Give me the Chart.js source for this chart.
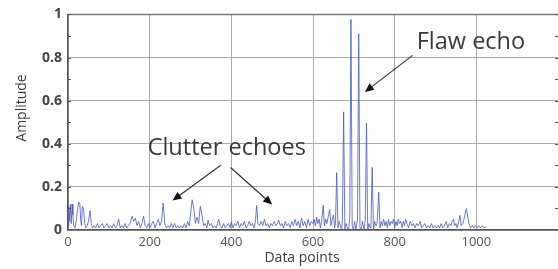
<!DOCTYPE html>
<html>
<head>
<meta charset="utf-8">
<script src="https://cdn.jsdelivr.net/npm/chart.js@4.4.1/dist/chart.umd.min.js"></script>
<style>
  html, body { margin: 0; padding: 0; background: #fff; overflow: hidden; }
  #wrap { width: 562px; height: 269px; }
</style>
</head>
<body>
<div id="wrap"><canvas id="myChart"></canvas></div>
<script>
// sample index (x) and amplitude (y)
const sampleIdx = [
  0, 2, 4, 6, 8, 10, 12, 14, 17, 20, 23, 26, 29, 31, 33, 35, 38, 41, 44, 47, 50, 54, 57, 60, 64, 68, 72, 76, 80, 84, 88, 92, 96, 100,
  104, 108, 112, 116, 120, 124, 128, 132, 136, 140, 144, 148, 152, 157, 161, 165, 169, 173, 177, 181, 185, 189, 193, 197, 201,
  205, 209, 213, 217, 221, 225, 229, 233, 237, 241, 245, 249, 253, 257, 261, 265, 269, 273, 277, 281, 285, 289, 293, 297,
  301, 304, 308, 312, 316, 320, 324, 328, 332, 336, 340, 343, 347, 351, 355, 359, 363, 366, 369, 373, 377, 381, 385, 389, 393, 397, 400,
  404, 408, 412, 416, 420, 424, 428, 432, 436, 440, 444, 448, 452, 456, 459, 462, 465, 469, 473, 477, 481, 485, 489, 493, 497, 501,
  505, 509, 513, 516, 520, 524, 528, 532, 536, 540, 544, 548, 552, 556, 560, 564, 568, 572, 576, 580, 584, 588, 592, 596, 600,
  603, 606, 609, 612, 615, 618, 621, 625, 628, 631, 634, 637, 641, 644, 647, 650, 653, 655, 658, 661, 664, 667, 670,
  672, 675, 678, 681, 684, 687, 690, 693, 696, 699, 702, 705, 709, 712, 715, 718, 721, 725, 728, 731, 734, 737, 740, 742, 745, 748, 751, 754, 757, 761, 764, 767, 770,
  773, 776, 779, 782, 785, 788, 791, 794, 797, 800, 803, 806, 809, 812, 815, 818, 821, 824, 827, 830, 834, 838, 842, 846, 850, 854, 858, 862, 866, 870, 874, 878, 882, 886, 890, 894, 898,
  902, 906, 910, 914, 918, 922, 926, 930, 934, 938, 941, 944, 947, 950, 953, 957, 960, 963, 967, 971, 974, 976, 979, 982, 986, 990, 994, 998, 1002, 1006, 1010, 1014, 1018, 1022, 1024
];
const amplitude = [
  0.02, 0.11, 0.04, 0.12, 0.03, 0.12, 0.07, 0.02, 0.01, 0.04, 0.09, 0.13, 0.12, 0.05, 0.02, 0.11, 0.10, 0.03, 0.01, 0.02, 0.04, 0.09, 0.03, 0.01, 0.02, 0.01, 0.03, 0.01, 0.02, 0.03, 0.01, 0.02, 0.03, 0.01,
  0.02, 0.01, 0.03, 0.01, 0.02, 0.05, 0.01, 0.02, 0.01, 0.03, 0.01, 0.02, 0.03, 0.064, 0.04, 0.055, 0.02, 0.04, 0.01, 0.03, 0.064, 0.02, 0.01, 0.03, 0.01,
  0.03, 0.04, 0.01, 0.03, 0.05, 0.02, 0.04, 0.125, 0.03, 0.01, 0.02, 0.01, 0.03, 0.01, 0.03, 0.01, 0.02, 0.01, 0.02, 0.01, 0.03, 0.01, 0.04, 0.02,
  0.09, 0.14, 0.10, 0.03, 0.06, 0.03, 0.11, 0.07, 0.02, 0.03, 0.01, 0.046, 0.02, 0.03, 0.01, 0.02, 0.01, 0.03, 0.05, 0.02, 0.01, 0.03, 0.01, 0.02, 0.03, 0.01, 0.038,
  0.01, 0.03, 0.02, 0.04, 0.01, 0.03, 0.02, 0.04, 0.01, 0.02, 0.04, 0.02, 0.03, 0.01, 0.04, 0.114, 0.03, 0.02, 0.04, 0.02, 0.05, 0.02, 0.03, 0.01, 0.03, 0.02,
  0.04, 0.02, 0.03, 0.046, 0.02, 0.03, 0.01, 0.04, 0.02, 0.03, 0.01, 0.04, 0.02, 0.05, 0.02, 0.04, 0.01, 0.055, 0.02, 0.04, 0.01, 0.05, 0.02, 0.04, 0.03,
  0.05, 0.02, 0.06, 0.03, 0.05, 0.01, 0.04, 0.114, 0.02, 0.05, 0.03, 0.06, 0.095, 0.02, 0.05, 0.07, 0.01, 0.03, 0.266, 0.01, 0.04, 0.02, 0.0,
  0.05, 0.548, 0.0, 0.03, 0.01, 0.0, 0.06, 0.977, 0.02, 0.0, 0.04, 0.0, 0.05, 0.91, 0.01, 0.0, 0.04, 0.0, 0.05, 0.495, 0.0, 0.03, 0.01, 0.04, 0.29, 0.0, 0.04, 0.02, 0.03, 0.175, 0.01, 0.04, 0.02,
  0.05, 0.02, 0.04, 0.01, 0.05, 0.02, 0.04, 0.03, 0.05, 0.01, 0.04, 0.02, 0.05, 0.03, 0.04, 0.01, 0.04, 0.02, 0.05, 0.03, 0.01, 0.04, 0.02, 0.03, 0.01, 0.03, 0.02, 0.04, 0.01, 0.02, 0.03, 0.01, 0.02, 0.01, 0.03, 0.01, 0.02,
  0.01, 0.02, 0.01, 0.03, 0.01, 0.02, 0.04, 0.01, 0.03, 0.02, 0.04, 0.05, 0.02, 0.03, 0.01, 0.04, 0.068, 0.02, 0.03, 0.06, 0.09, 0.099, 0.06, 0.03, 0.01, 0.02, 0.01, 0.02, 0.01, 0.02, 0.01, 0.02, 0.01, 0.015, 0.01
];
const xTickLabels = ['0', '200', '400', '600', '800', '1000'];
const yTickLabels = ['0', '0.2', '0.4', '0.6', '0.8', '1'];

// text callouts, anchored in data units
const callouts = [
  { text: 'Flaw echo', x: 854, y: 0.87, arrows: [[844, 0.81, 727, 0.64]] },
  { text: 'Clutter echoes', x: 195, y: 0.38, arrows: [[374, 0.30, 256, 0.137], [398, 0.29, 500, 0.118]] }
];

const points = sampleIdx.map((x, i) => ({ x: x, y: amplitude[i] }));

const textColor = '#3c3c3c';

const decorPlugin = {
  id: 'decor',
  afterDraw(chart) {
    const ctx = chart.ctx;
    const xs = chart.scales.x, ys = chart.scales.y;
    const area = chart.chartArea;
    ctx.save();
    // top frame line
    ctx.strokeStyle = '#777';
    ctx.lineWidth = 1.5;
    ctx.beginPath();
    ctx.moveTo(area.left, area.top); ctx.lineTo(area.right, area.top);
    ctx.stroke();
    // minor ticks on left and right
    ctx.strokeStyle = '#555';
    ctx.lineWidth = 1;
    for (let v = 0.1; v < 1; v += 0.1) {
      const py = Math.round(ys.getPixelForValue(v)) + 0.5;
      ctx.beginPath();
      ctx.moveTo(area.left, py); ctx.lineTo(area.left + 3, py);
      ctx.moveTo(area.right, py); ctx.lineTo(area.right - 3, py);
      ctx.stroke();
    }
    // axis titles
    ctx.fillStyle = textColor;
    ctx.font = '14px "Open Sans"';
    ctx.textAlign = 'center';
    ctx.textBaseline = 'middle';
    ctx.fillText('Data points', 302, 258);
    ctx.save();
    ctx.translate(22, 108);
    ctx.rotate(-Math.PI / 2);
    ctx.fillText('Amplitude', 0, 0);
    ctx.restore();
    // callouts
    ctx.font = '23.5px "Open Sans"';
    ctx.textAlign = 'left';
    callouts.forEach(c => {
      ctx.fillStyle = '#3a3a3a';
      ctx.fillText(c.text, xs.getPixelForValue(c.x), ys.getPixelForValue(c.y));
      c.arrows.forEach(a => {
        const x1 = xs.getPixelForValue(a[0]), y1 = ys.getPixelForValue(a[1]);
        const x2 = xs.getPixelForValue(a[2]), y2 = ys.getPixelForValue(a[3]);
        const ang = Math.atan2(y2 - y1, x2 - x1);
        ctx.strokeStyle = '#333';
        ctx.lineWidth = 1.2;
        ctx.beginPath();
        ctx.moveTo(x1, y1);
        ctx.lineTo(x2 - 6 * Math.cos(ang), y2 - 6 * Math.sin(ang));
        ctx.stroke();
        ctx.fillStyle = '#111';
        ctx.beginPath();
        ctx.moveTo(x2, y2);
        ctx.lineTo(x2 - 9 * Math.cos(ang) + 4 * Math.sin(ang), y2 - 9 * Math.sin(ang) - 4 * Math.cos(ang));
        ctx.lineTo(x2 - 9 * Math.cos(ang) - 4 * Math.sin(ang), y2 - 9 * Math.sin(ang) + 4 * Math.cos(ang));
        ctx.closePath();
        ctx.fill();
      });
    });
    ctx.restore();
  }
};

const lineConfig = {
  type: 'line',
  data: {
    datasets: [{
      data: points,
      borderColor: 'rgba(70, 90, 190, 0.8)',
      borderWidth: 1,
      pointRadius: 0,
      tension: 0
    }]
  },
  options: {
    responsive: false,
    animation: false,
    layout: { padding: { top: 11, right: 2, left: 0, bottom: 0 } },
    plugins: { legend: { display: false }, tooltip: { enabled: false } },
    scales: {
      x: {
        type: 'linear',
        min: 0, max: 1200,
        border: { color: '#555', width: 1.5 },
        grid: { color: '#aaa', drawTicks: false },
        ticks: {
          stepSize: 200, padding: 4, color: '#555',
          font: { family: 'Open Sans', size: 13 },
          callback: v => xTickLabels.includes(String(v)) ? String(v) : ''
        },
        afterFit: s => { s.height = 39; }
      },
      y: {
        min: 0, max: 1,
        border: { color: '#555', width: 1.5 },
        grid: { color: '#aaa', drawTicks: false },
        ticks: {
          stepSize: 0.2, padding: 6, color: '#444',
          font: { family: 'Open Sans', size: 14, weight: 'bold' },
          callback: (v, i) => yTickLabels[i]
        },
        afterFit: s => { s.width = 68; }
      }
    }
  },
  plugins: [decorPlugin]
};

const canvas = document.getElementById('myChart');
canvas.width = 562; canvas.height = 269;
var lineChart = new Chart(canvas, lineConfig);
</script>
</body>
</html>
